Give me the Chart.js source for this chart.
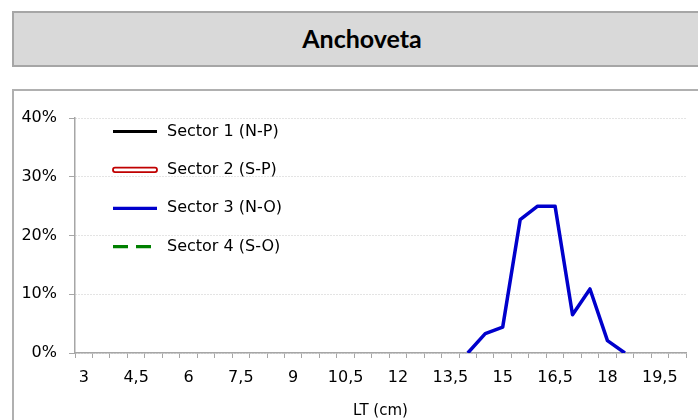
<!DOCTYPE html>
<html>
<head>
<meta charset="utf-8">
<script src="https://cdn.jsdelivr.net/npm/chart.js@4/dist/chart.umd.min.js"></script>
<style>
  body { margin: 0; width: 698px; height: 420px; position: relative; overflow: hidden; background: #fff; }
  #titleBox {
    position: absolute; left: 12px; top: 11px; width: 720px; height: 52px;
    background: #d9d9d9; border: 2px solid #a6a6a6;
  }
  #titleText {
    position: absolute; left: 12px; top: 12px; width: 700px; height: 52px;
    display: flex; align-items: center; justify-content: center;
    font: bold 25px Lato, "Open Sans", sans-serif; color: #000;
  }
  #frame {
    position: absolute; left: 12px; top: 89px; width: 720px; height: 400px;
    border-left: 2px solid #b0b0b0; border-top: 2px solid #b0b0b0;
  }
  #wrap { position: absolute; left: 0; top: 0; width: 698px; height: 420px; }
</style>
</head>
<body>
<div id="titleBox"></div>
<div id="titleText">Anchoveta</div>
<div id="frame"></div>
<div id="wrap"><canvas id="chart" width="698" height="420"></canvas></div>
<script>
// talla (LT, cm) cada 0,5 cm
const lengths = ['3', '3,5', '4', '4,5', '5', '5,5', '6', '6,5', '7', '7,5', '8', '8,5',
  '9', '9,5', '10', '10,5', '11', '11,5', '12', '12,5', '13', '13,5', '14', '14,5',
  '15', '15,5', '16', '16,5', '17', '17,5', '18', '18,5', '19', '19,5', '20'];

// Sector 3 (N-O): frecuencia en %
const sector3Lengths = ['14', '14,5', '15', '15,5', '16', '16,5', '17', '17,5', '18', '18,5'];
const sector3Values = [0, 3.3, 4.4, 22.7, 25.0, 25.0, 6.5, 10.9, 2.1, 0];

// otros sectores sin datos
const sector1Values = [];
const sector2Values = [];
const sector4Values = [];

const yTicks = [0, 10, 20, 30, 40];

const FONT = 'DejaVu Sans';

// leyenda dentro del area del grafico
const insideLegend = {
  id: 'insideLegend',
  afterDraw(chart) {
    const ctx = chart.ctx;
    const area = chart.chartArea;
    const x0 = area.left + 38;
    const len = 44;
    ctx.save();
    ctx.font = '16px ' + FONT;
    ctx.textBaseline = 'middle';
    ctx.fillStyle = '#000';
    chart.data.datasets.forEach((ds, i) => {
      const y = area.top + 13.5 + i * 38.4;
      if (ds.legendDouble) {
        ctx.lineWidth = 1.8;
        ctx.strokeStyle = ds.borderColor;
        ctx.fillStyle = '#fff';
        ctx.beginPath();
        ctx.roundRect(x0, y - 2.2, len, 4.4, 2);
        ctx.fill();
        ctx.stroke();
        ctx.fillStyle = '#000';
      } else {
        ctx.lineWidth = 3.2;
        ctx.strokeStyle = ds.borderColor;
        ctx.setLineDash(ds.borderDash || []);
        ctx.beginPath();
        ctx.moveTo(x0, y);
        ctx.lineTo(ds.borderDash ? x0 + 40 : x0 + len, y);
        ctx.stroke();
        ctx.setLineDash([]);
      }
      ctx.fillText(ds.label, x0 + 54, y);
    });
    ctx.restore();
  }
};

new Chart(document.getElementById('chart'), {
  type: 'line',
  data: {
    labels: lengths,
    datasets: [
      { label: 'Sector 1 (N-P)', data: sector1Values, borderColor: '#000000', borderWidth: 3 },
      { label: 'Sector 2 (S-P)', data: sector2Values, borderColor: '#c00000', borderWidth: 3, legendDouble: true },
      { label: 'Sector 3 (N-O)',
        data: sector3Lengths.map((l, i) => ({ x: l, y: sector3Values[i] })),
        borderColor: '#0000cc', borderWidth: 3.5 },
      { label: 'Sector 4 (S-O)', data: sector4Values, borderColor: '#008000', borderWidth: 3, borderDash: [15, 8] }
    ]
  },
  options: {
    responsive: false,
    animation: false,
    layout: { padding: { left: 0, top: 118, right: 12, bottom: 0 } },
    elements: { point: { radius: 0 }, line: { tension: 0, borderJoinStyle: 'round' } },
    plugins: { legend: { display: false }, tooltip: { enabled: false } },
    scales: {
      x: {
        type: 'category',
        offset: true,
        afterFit(scale) { scale.height = 67; },
        grid: { offset: true, drawOnChartArea: false, drawTicks: true, tickLength: 5, tickColor: '#a6a6a6', tickWidth: 1 },
        border: { color: '#a6a6a6', width: 1.5 },
        ticks: {
          autoSkip: false, maxRotation: 0, minRotation: 0, padding: 10,
          color: '#000', font: { family: FONT, size: 16 },
          callback(v, i) { return i % 3 === 0 ? this.getLabelForValue(v) : ''; }
        },
        title: {
          display: true, text: 'LT (cm)', color: '#000',
          font: { family: FONT, size: 15, lineHeight: 1 }, padding: { top: 0, bottom: 1 }
        }
      },
      y: {
        min: 0, max: 40,
        afterFit(scale) { scale.width = 75; },
        afterBuildTicks(scale) { scale.ticks = yTicks.map(v => ({ value: v })); },
        grid: { color: '#c8c8c8', lineWidth: 1, drawTicks: true, tickLength: 6, tickColor: '#a6a6a6', tickBorderDash: [] },
        border: { color: '#a6a6a6', width: 1.5, dash: [1, 2] },
        ticks: {
          padding: 12, color: '#000', font: { family: FONT, size: 16 },
          callback(v) { return v + '%'; }
        }
      }
    }
  },
  plugins: [insideLegend]
});
</script>
</body>
</html>
